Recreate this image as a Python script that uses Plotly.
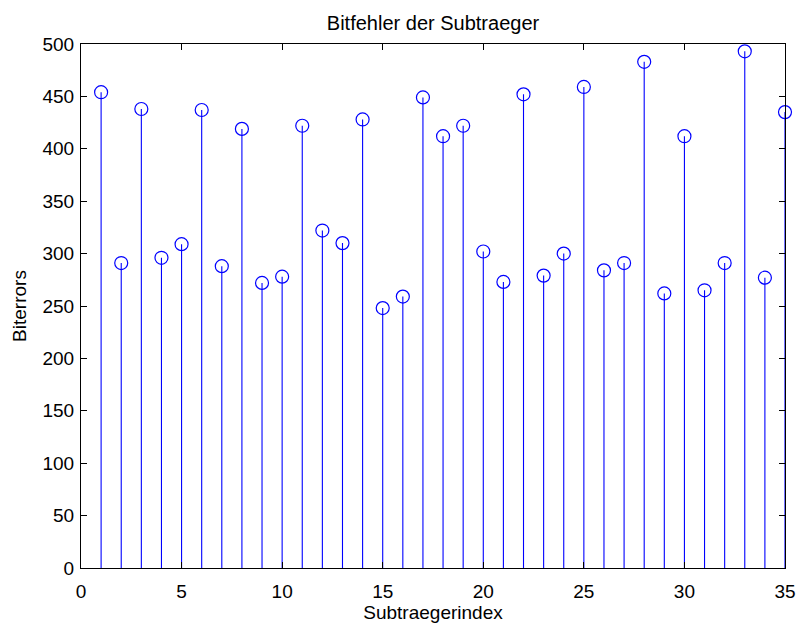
import plotly.graph_objects as go

# Bit errors per subcarrier
subcarrier = list(range(1, 36))
bit_errors = [454, 291, 438, 296, 309, 437, 288, 419, 272, 278,
              422, 322, 310, 428, 248, 259, 449, 412, 422, 302,
              273, 452, 279, 300, 459, 284, 291, 483, 262, 412,
              265, 291, 493, 277, 435]

x_ticks = list(range(0, 36, 5))
y_ticks = list(range(0, 501, 50))

font = "Liberation Sans, Arial, Helvetica, sans-serif"
blue = "#0000ff"

fig = go.Figure()

# Stem plot: vertical stems from zero via one-sided error bars, open circles on top
fig.add_trace(go.Scatter(
    x=subcarrier,
    y=bit_errors,
    mode="markers",
    marker=dict(symbol="circle-open", size=13, color=blue, line=dict(width=1.2, color=blue)),
    error_y=dict(type="data", symmetric=False, array=[0] * len(bit_errors),
                 arrayminus=bit_errors, width=0, thickness=1.1, color=blue),
    cliponaxis=False,
    showlegend=False,
))

axis_common = dict(
    showgrid=False, zeroline=False, showline=True, linecolor="black", linewidth=1,
    mirror="ticks", ticks="inside", ticklen=6, tickcolor="black", tickwidth=1,
    tickfont=dict(family=font, size=19, color="black"), automargin=False,
)

fig.update_xaxes(range=[0, 35], tickvals=x_ticks, ticklabelstandoff=6,
                 title=dict(text="Subtraegerindex", font=dict(family=font, size=19, color="black"), standoff=2),
                 **axis_common)
fig.update_yaxes(range=[0, 500], tickvals=y_ticks, ticklabelstandoff=2,
                 title=dict(text="Biterrors", font=dict(family=font, size=19, color="black"), standoff=10),
                 **axis_common)

fig.update_layout(
    width=798, height=623,
    margin=dict(l=81, r=13, t=44, b=55),
    paper_bgcolor="white", plot_bgcolor="white",
    title=dict(text="Bitfehler der Subtraeger", x=0.5, xref="paper", xanchor="center",
               y=1 - 23 / 623, yanchor="middle",
               font=dict(family=font, size=20, color="black")),
)

fig.write_html("out.html")
